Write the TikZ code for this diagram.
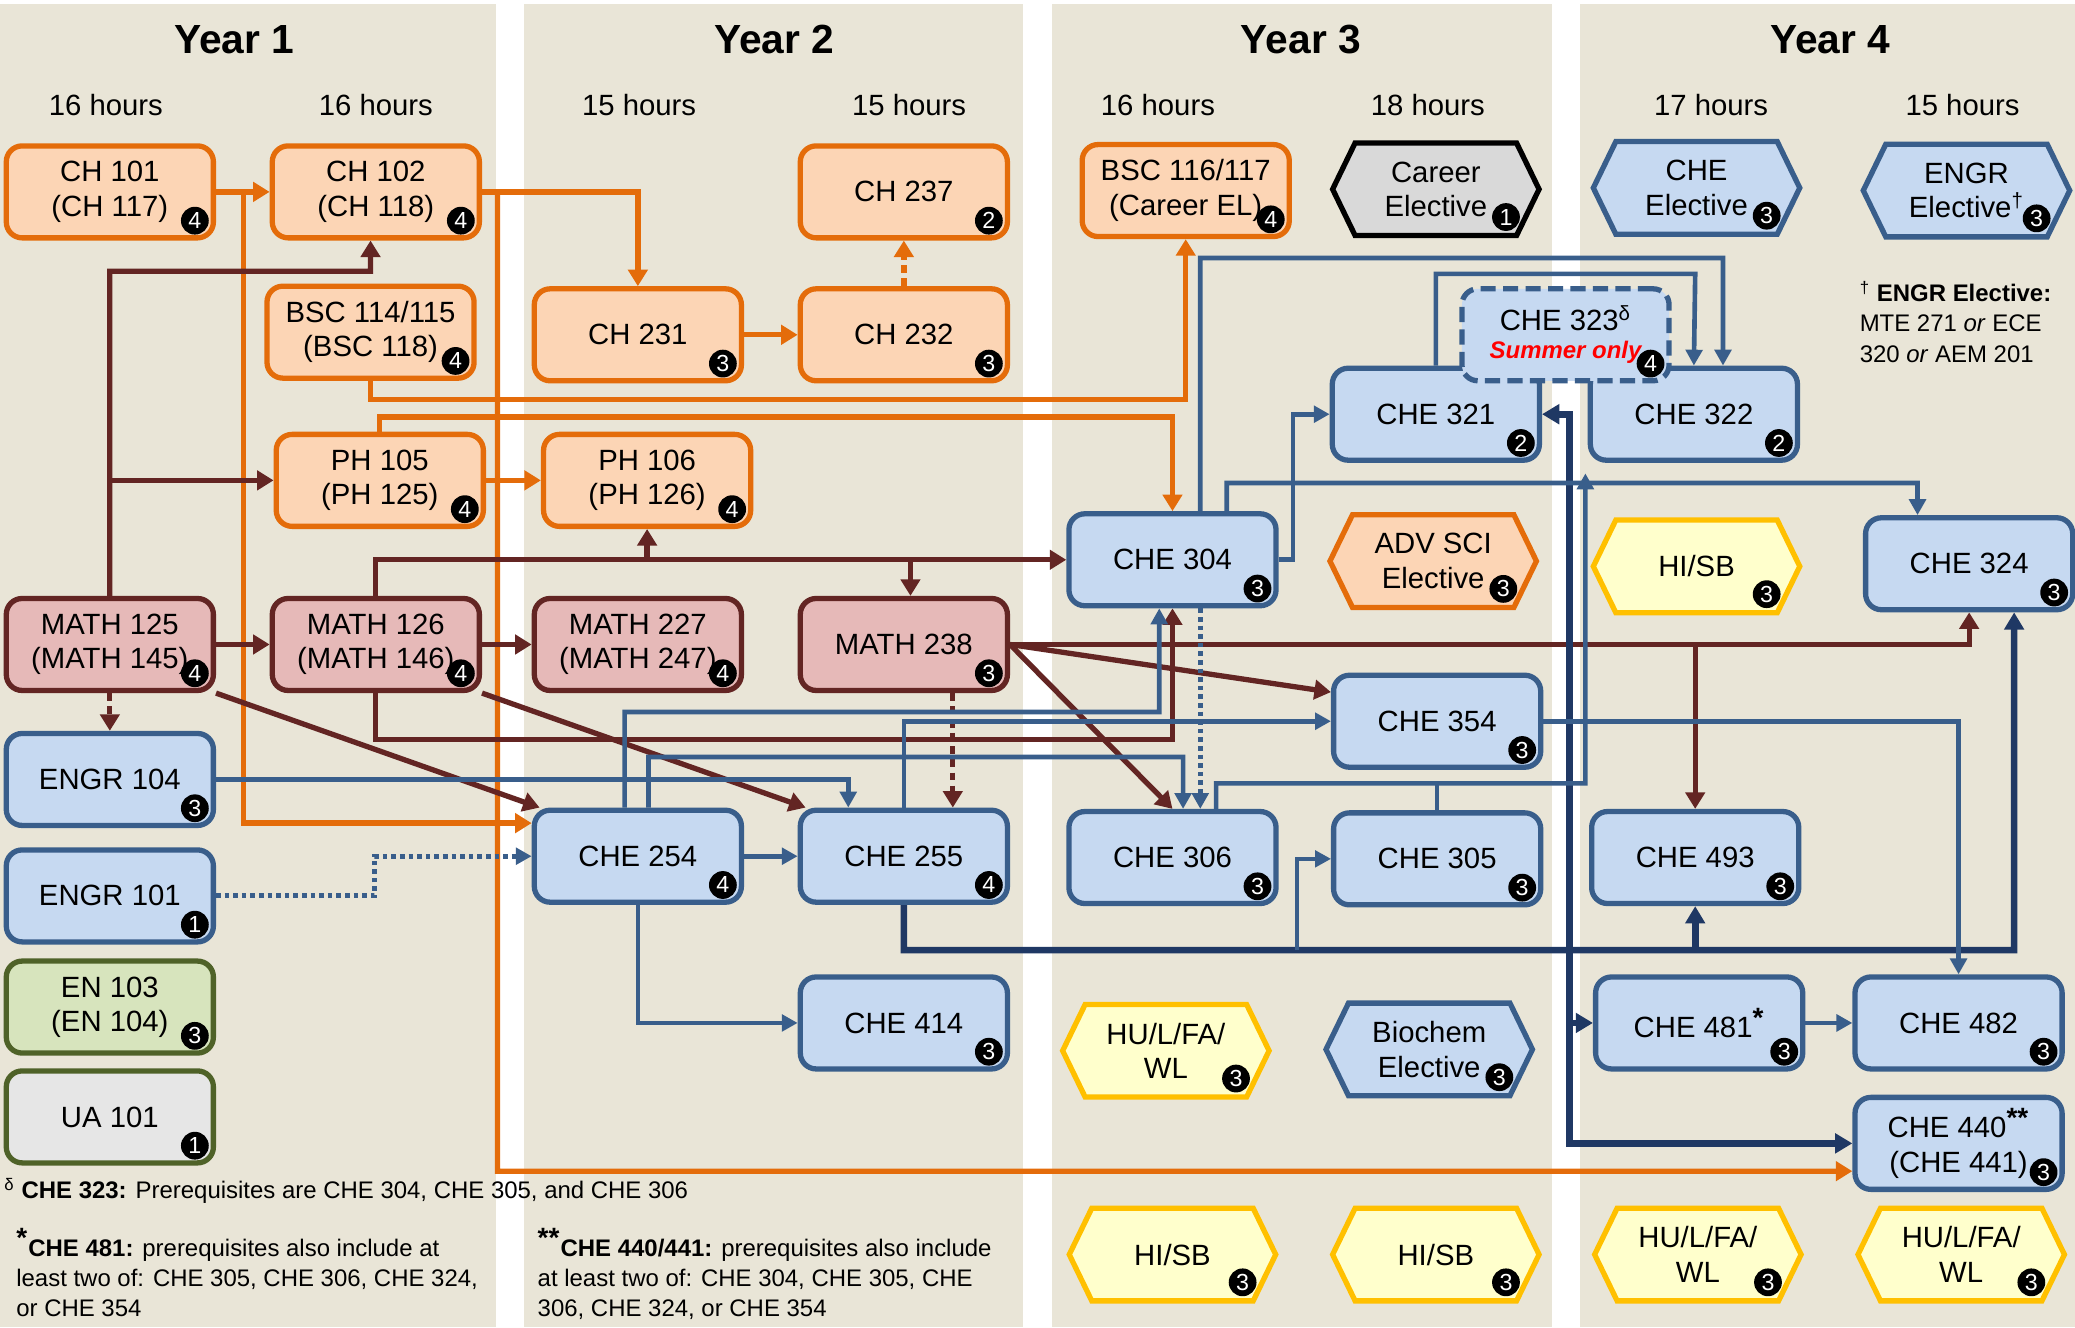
\documentclass[tikz,border=0pt]{standalone}
\usepackage{fontspec}
\setmainfont{Liberation Sans}
\usetikzlibrary{arrows.meta,calc}

\definecolor{cOrange}{RGB}{228,108,10}
\definecolor{cPeach}{RGB}{252,213,181}
\definecolor{cMaroon}{RGB}{99,37,35}
\definecolor{cRose}{RGB}{230,185,184}
\definecolor{cSteel}{RGB}{57,94,139}
\definecolor{cSky}{RGB}{198,217,241}
\definecolor{cNavy}{RGB}{31,56,100}
\definecolor{cOlive}{RGB}{79,98,40}
\definecolor{cSage}{RGB}{215,228,189}
\definecolor{cUA}{RGB}{230,230,230}
\definecolor{cCareer}{RGB}{217,217,217}
\definecolor{cGold}{RGB}{255,192,0}
\definecolor{cCream}{RGB}{255,255,204}
\definecolor{cBeige}{RGB}{233,229,215}
\definecolor{cRed}{RGB}{255,0,0}

\newcommand{\boxfont}{\fontsize{12.6}{14.8}\selectfont}
\newcommand{\yearfont}{\fontsize{17.5}{20}\selectfont\bfseries}
\newcommand{\fnfont}{\fontsize{10.3}{13}\selectfont}
\newcommand{\credfont}{\fontsize{10}{10}\selectfont}
\newcommand{\summerfont}{\fontsize{10.3}{12}\selectfont\bfseries\itshape}
\newcommand{\astmark}[1]{\textsuperscript{\fontsize{12}{12}\selectfont\textbf{#1}}}

\pgfdeclarelayer{panels}
\pgfdeclarelayer{links}
\pgfsetlayers{panels,links,main}

\tikzset{
  course/.style={rectangle, rounded corners=2.4mm, line width=0.8mm, minimum width=31.3mm,
    minimum height=13.9mm, align=center, inner sep=0.5mm, font=\boxfont},
  obox/.style={course, draw=cOrange, fill=cPeach},
  mbox/.style={course, draw=cMaroon, fill=cRose},
  bbox/.style={course, draw=cSteel, fill=cSky},
  gbox/.style={course, draw=cOlive, fill=cSage},
  ubox/.style={course, draw=cOlive, fill=cUA},
  sbox/.style={bbox, dash pattern=on 2.3mm off 1.1mm},
  hexgrey/.style={draw=black, fill=cCareer, line width=0.8mm},
  hexorange/.style={draw=cOrange, fill=cPeach, line width=0.8mm},
  hexblue/.style={draw=cSteel, fill=cSky, line width=0.8mm},
  hexyellow/.style={draw=cGold, fill=cCream, line width=0.8mm},
  hextext/.style={align=center, inner sep=0.5mm, font=\boxfont},
  credit/.style={circle, fill=black, text=white, inner sep=0pt, minimum size=4.2mm, font=\credfont},
  yearhead/.style={font=\yearfont},
  hours/.style={font=\boxfont},
  fnote/.style={font=\fnfont, align=left, inner sep=0pt},
  olink/.style={draw=cOrange, line width=0.8mm, -{Triangle[length=2.5mm,width=2.9mm]}},
  mlink/.style={draw=cMaroon, line width=0.8mm, -{Triangle[length=2.5mm,width=2.9mm]}},
  blink/.style={draw=cSteel, line width=0.7mm, -{Triangle[length=2.4mm,width=2.5mm]}},
  nlink/.style={draw=cNavy, line width=1mm, -{Triangle[length=2.6mm,width=2.9mm]}},
  dashlink/.style={dash pattern=on 1.2mm off 0.8mm},
  dotlink/.style={dash pattern=on 0.7mm off 0.6mm},
}

% credit badge in the lower right corner of a course box
\newcommand{\cred}[2]{\node[credit] (#1-cr) at ([shift={(-16,-15)}]#1.south east) {#2};}
% elective hexagon: name, look, centre, text, credits
\newcommand{\hexbox}[5]{%
  \path[#2] ($#3+(-78,0)$) -- ($#3+(-61,-35)$) -- ($#3+(61,-35)$) -- ($#3+(78,0)$)
    -- ($#3+(61,35)$) -- ($#3+(-61,35)$) -- cycle;
  \node[hextext] (#1) at #3 {#4};
  \node[credit] (#1-cr) at ($#3+(53,21)$) {#5};}

\begin{document}
\begin{tikzpicture}[x=0.2mm,y=-0.2mm]
\useasboundingbox (0,0) rectangle (1568,1003);

% year panels
\begin{pgfonlayer}{panels}
\fill[white] (0,0) rectangle (1568,1003);
\fill[cBeige] (0,3) rectangle (375,1003);
\fill[cBeige] (396,3) rectangle (773,1003);
\fill[cBeige] (795,3) rectangle (1173,1003);
\fill[cBeige] (1194,3) rectangle (1568,1003);
\end{pgfonlayer}

\node[yearhead] (y1) at (177,30) {Year 1};
\node[yearhead] (y2) at (585,30) {Year 2};
\node[yearhead] (y3) at (983,30) {Year 3};
\node[yearhead] (y4) at (1383,30) {Year 4};

\node[hours] (h1a) at (80,79) {16 hours};
\node[hours] (h1b) at (284,79) {16 hours};
\node[hours] (h2a) at (483,79) {15 hours};
\node[hours] (h2b) at (687,79) {15 hours};
\node[hours] (h3a) at (875,79) {16 hours};
\node[hours] (h3b) at (1079,79) {18 hours};
\node[hours] (h4a) at (1293,79) {17 hours};
\node[hours] (h4b) at (1483,79) {15 hours};

% year 1
\node[obox] (ch101) at (83,145) {CH 101\\(CH 117)}; \cred{ch101}{4}
\node[obox] (ch102) at (284,145) {CH 102\\(CH 118)}; \cred{ch102}{4}
\node[obox] (bsc114) at (280,251) {BSC 114/115\\(BSC 118)}; \cred{bsc114}{4}
\node[obox] (ph105) at (287,363) {PH 105\\(PH 125)}; \cred{ph105}{4}
\node[mbox] (math125) at (83,487) {MATH 125\\(MATH 145)}; \cred{math125}{4}
\node[mbox] (math126) at (284,487) {MATH 126\\(MATH 146)}; \cred{math126}{4}
\node[bbox] (engr104) at (83,589) {ENGR 104}; \cred{engr104}{3}
\node[bbox] (engr101) at (83,677) {ENGR 101}; \cred{engr101}{1}
\node[gbox] (en103) at (83,761) {EN 103\\(EN 104)}; \cred{en103}{3}
\node[ubox] (ua101) at (83,844) {UA 101}; \cred{ua101}{1}

% year 2
\node[obox] (ch237) at (683,145) {CH 237}; \cred{ch237}{2}
\node[obox] (ch231) at (482,253) {CH 231}; \cred{ch231}{3}
\node[obox] (ch232) at (683,253) {CH 232}; \cred{ch232}{3}
\node[obox] (ph106) at (489,363) {PH 106\\(PH 126)}; \cred{ph106}{4}
\node[mbox] (math227) at (482,487) {MATH 227\\(MATH 247)}; \cred{math227}{4}
\node[mbox] (math238) at (683,487) {MATH 238}; \cred{math238}{3}
\node[bbox] (che254) at (482,647) {CHE 254}; \cred{che254}{4}
\node[bbox] (che255) at (683,647) {CHE 255}; \cred{che255}{4}
\node[bbox] (che414) at (683,773) {CHE 414}; \cred{che414}{3}

% year 3
\node[obox] (bsc116) at (896,144) {BSC 116/117\\(Career EL)}; \cred{bsc116}{4}
\hexbox{career}{hexgrey}{(1085,143)}{Career\\Elective}{1}
\node[bbox] (che321) at (1085,313) {CHE 321}; \cred{che321}{2}
\node[bbox] (che304) at (886,423) {CHE 304}; \cred{che304}{3}
\hexbox{advsci}{hexorange}{(1083,424)}{ADV SCI\\Elective}{3}
\node[bbox] (che354) at (1086,545) {CHE 354}; \cred{che354}{3}
\node[bbox] (che306) at (886,648) {CHE 306}; \cred{che306}{3}
\node[bbox] (che305) at (1086,649) {CHE 305}; \cred{che305}{3}
\hexbox{hum3}{hexyellow}{(881,794)}{HU/L/FA/\\WL}{3}
\hexbox{biochem}{hexblue}{(1080,793)}{Biochem\\Elective}{3}
\hexbox{hisb3a}{hexyellow}{(886,948)}{HI/SB}{3}
\hexbox{hisb3b}{hexyellow}{(1085,948)}{HI/SB}{3}

% year 4
\hexbox{cheel}{hexblue}{(1282,142)}{CHE\\Elective}{3}
\hexbox{engrel}{hexblue}{(1486,144)}{ENGR\\Elective\textsuperscript{†}}{3}
\node[bbox] (che322) at (1280,313) {CHE 322}; \cred{che322}{2}
\hexbox{hisb4}{hexyellow}{(1282,428)}{HI/SB}{3}
\node[bbox] (che324) at (1488,426) {CHE 324}; \cred{che324}{3}
\node[bbox] (che493) at (1281,648) {CHE 493}; \cred{che493}{3}
\node[bbox] (che481) at (1284,773) {CHE 481\astmark{*}}; \cred{che481}{3}
\node[bbox] (che482) at (1480,773) {CHE 482}; \cred{che482}{3}
\node[bbox] (che440) at (1480,864) {CHE 440\astmark{**}\\(CHE 441)}; \cred{che440}{3}
\hexbox{hum4a}{hexyellow}{(1283,948)}{HU/L/FA/\\WL}{3}
\hexbox{hum4b}{hexyellow}{(1482,948)}{HU/L/FA/\\WL}{3}

% summer course sits over CHE 321 and CHE 322
\node[sbox] (che323) at (1183,253) {CHE 323\textsuperscript{δ}\\[-1mm]{\summerfont\color{cRed}Summer only}}; \cred{che323}{4}

% notes
\node[fnote, anchor=north west] (fnengr) at (1405,212)
  {\textsuperscript{†} \textbf{ENGR Elective:}\\MTE 271 \textit{or} ECE\\320 \textit{or} AEM 201};
\node[fnote, anchor=west] (fn323) at (3,900)
  {\textsuperscript{δ} \textbf{CHE 323:} Prerequisites are CHE 304, CHE 305, and CHE 306};
\node[fnote, anchor=north west] (fn481) at (12,928)
  {\astmark{*}\textbf{CHE 481:} prerequisites also include at\\least two of: CHE 305, CHE 306, CHE 324,\\or CHE 354};
\node[fnote, anchor=north west] (fn440) at (406,928)
  {\astmark{**}\textbf{CHE 440/441:} prerequisites also include\\at least two of: CHE 304, CHE 305, CHE\\306, CHE 324, or CHE 354};

\begin{pgfonlayer}{links}
% chemistry and physics
\coordinate (jo1) at (184,145);
\draw[olink] (ch101.east) -- (ch102.west);
\draw[olink] (jo1) |- ([yshift=5mm]che254.west);
\draw[olink] (ch102.east) -| (ch231.north);
\draw[olink] (ch102.east) -| (376,885) -- ([yshift=-4.2mm]che440.west);
\draw[olink] (bsc114.south) |- (896,302) -- (bsc116.south);
\draw[olink] (ph105.north) |- (886,315) -- (che304.north);
\draw[olink] (ph105.east) -- (ph106.west);
\draw[olink] (ch231.east) -- (ch232.west);
\draw[olink, dashlink] (ch232.north) -- (ch237.south);

% mathematics
\coordinate (jm1) at (83,363);
\coordinate (jm2) at (688,423);
\draw[mlink] (math125.north) |- (280,205) -- ([xshift=-0.8mm]ch102.south);
\draw[mlink] (jm1) -- (ph105.west);
\draw[mlink] (math125.east) -- (math126.west);
\draw[mlink, dashlink] (math125.south) -- (engr104.north);
\draw[mlink] (math125.south east) -- ([xshift=1.2mm]che254.north west);
\draw[mlink] (math126.east) -- (math227.west);
\draw[mlink] (math126.north) |- (che304.west);
\draw[mlink] (ph106.south |- che304.west) -- (ph106.south);
\draw[mlink] (jm2) -- (jm2 |- math238.north);
\draw[mlink] (math126.south) |- (886,559) -- (che304.south);
\draw[mlink] (math126.south east) -- ([xshift=1.2mm]che255.north west);
\draw[mlink] (math238.east) -| (che324.south);
\draw[mlink] (che493.north |- math238.east) -- (che493.north);
\draw[mlink] (math238.east) -- ([yshift=4.4mm]che354.west);
\draw[mlink] (math238.east) -- (che306.north);
\draw[mlink, dashlink] ([xshift=7.4mm]math238.south) -- ([xshift=7.4mm]che255.north);

% engineering
\draw[blink] (engr104.east) -| ([xshift=-8.4mm]che255.north);
\draw[blink, dotlink, line width=0.75mm] (engr101.east) -| (283,647) -- (che254.west);
\draw[blink] (che254.east) -- (che255.west);
\draw[blink] ([xshift=-2mm]che254.north) |- (876,538) -- ([xshift=-2mm]che304.south);
\draw[blink] ([xshift=1.6mm]che254.north) |- (894,572) -- ([xshift=1.6mm]che306.north);
\draw[blink] (che255.north) |- (che354.west);
\draw[blink] (che254.south) |- (che414.west);
\coordinate (jn1) at (980,718);
\coordinate (jn2) at (1281,718);
\coordinate (jn3) at (1186,718);
\draw[nlink] (che255.south) |- (1522,718) -- ([xshift=6.8mm]che324.south);
\draw[blink, line width=0.5mm] (jn1) |- (che305.west);
\draw[nlink] (jn2) -- (che493.south);
\draw[nlink] (jn3) |- (che321.east);
\draw[nlink] (jn3) |- (che481.west);
\draw[nlink] (jn3) |- (che440.west);
\draw[blink] ([xshift=4.2mm]che304.north) |- (1302,195) -- ([xshift=4.4mm]che322.north);
\draw[blink] (che321.north) |- (1281,207) -- (che322.north);
\draw[blink] (che304.east) -| (977,313) -- (che321.west);
\draw[blink] ([xshift=8.2mm]che304.north) |- (1449,365) -- ([xshift=-7.8mm]che324.north);
\draw[blink, dotlink, line width=0.75mm] ([xshift=4.2mm]che304.south) -- ([xshift=4.2mm]che306.north);
\coordinate (jb1) at (1086,592);
\draw[blink] ([xshift=6.6mm]che306.north) |- (1198,592) -- ([xshift=-16.4mm,yshift=-1.6mm]che322.south);
\draw[blink, -] (che305.north) -- (jb1);
\draw[blink] (che354.east) -| (che482.north);
\draw[blink] (che481.east) -- (che482.west);
\end{pgfonlayer}
\end{tikzpicture}
\end{document}
